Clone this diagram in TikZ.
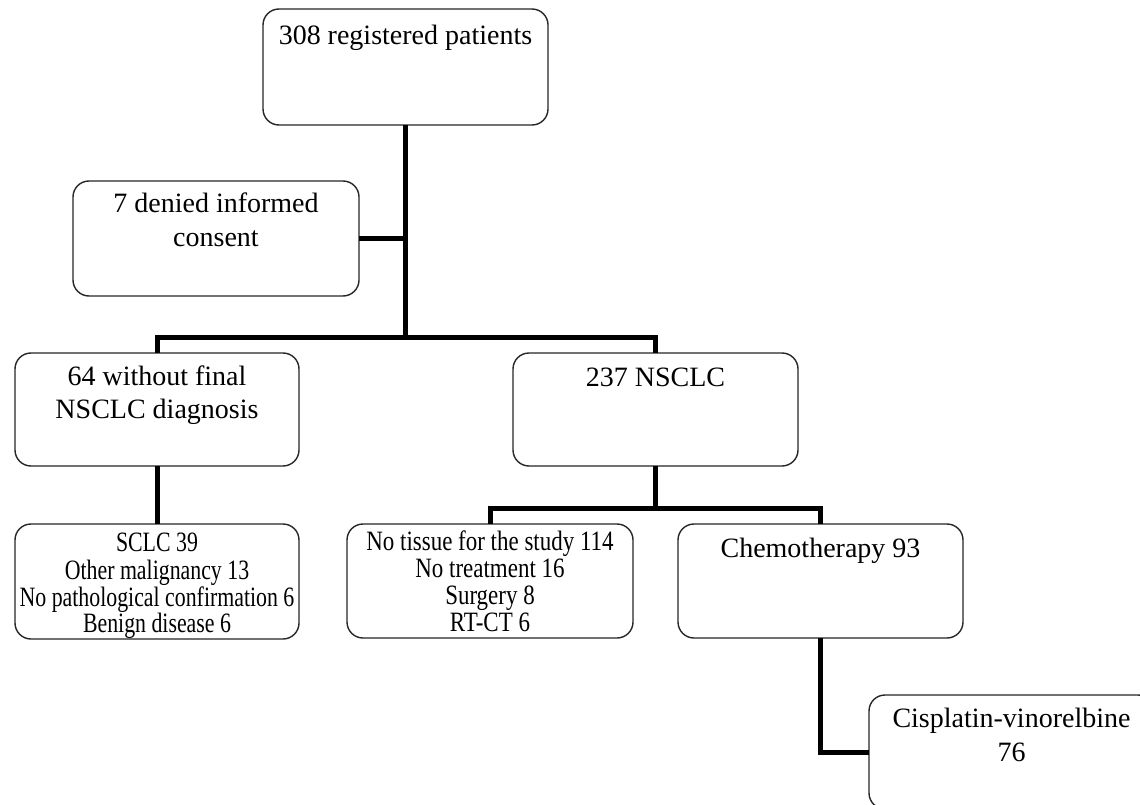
\documentclass[tikz,border=0pt]{standalone}
\usepackage{fontspec}
\setmainfont{Liberation Serif}
\newfontfamily\condA[FakeStretch=0.78]{Liberation Serif}
\newfontfamily\condB[FakeStretch=0.82]{Liberation Serif}
\newcommand{\bxtext}[5]{\parbox[t][#2pt][t]{#1pt}{#4\vskip#3pt\centering\strut #5\par}}
\tikzset{
  box/.style={draw=black!85, line width=1.4pt, rounded corners=16pt, fill=white,
    inner sep=0pt, outer sep=0pt, anchor=north west},
  link/.style={line width=5pt, black},
}
\begin{document}
\begin{tikzpicture}[x=1pt, y=-1pt]
\useasboundingbox (0,0) rectangle (1140,805);
\clip (0,0) rectangle (1140,805);
\coordinate (y1) at (0,337);
\coordinate (y2) at (0,508);
% boxes
\node[box] (top) at (263,9) {\bxtext{285}{116}{12}{\fontsize{28}{33}\selectfont}{308 registered patients}};
\node[box] (deny) at (73,181) {\bxtext{286}{115}{8}{\fontsize{28}{34}\selectfont}{7 denied informed\\consent}};
\node[box] (diag) at (15,353) {\bxtext{284}{113}{9}{\fontsize{28}{33}\selectfont}{64 without final\\NSCLC diagnosis}};
\node[box] (nsclc) at (513,353) {\bxtext{285}{113}{10}{\fontsize{28}{33}\selectfont}{237 NSCLC}};
\node[box] (sclc) at (15,524) {\bxtext{284}{115}{9.4}{\condA\fontsize{28}{23.7}\selectfont}{SCLC 39\\Other malignancy 13\\No pathological confirmation 6\\Benign disease 6}};
\node[box] (notissue) at (347,524) {\bxtext{286}{114}{7.1}{\condB\fontsize{28}{27}\selectfont}{No tissue for the study 114\\No treatment 16\\Surgery 8\\RT-CT 6}};
\node[box] (chemo) at (678,524) {\bxtext{285}{114}{10}{\fontsize{28}{33}\selectfont}{Chemotherapy 93}};
\node[box] (cis) at (869,695) {\bxtext{285}{114}{9}{\fontsize{28}{34}\selectfont}{Cisplatin-vinorelbine\\76}};
% junctions
\coordinate (j1) at (top.south |- y1);
\coordinate (j2) at (nsclc.south |- y2);
% connectors
\draw[link] (top.south) -- (j1);
\draw[link] (deny.east) -- (deny.east -| j1);
\draw[link] (diag.north) |- (j1) -| (nsclc.north);
\draw[link] (diag.south) -- (sclc.north);
\draw[link] (nsclc.south) -- (j2);
\draw[link] (notissue.north) |- (j2) -| (chemo.north);
\draw[link] (chemo.south) |- (cis.west);
\end{tikzpicture}
\end{document}
